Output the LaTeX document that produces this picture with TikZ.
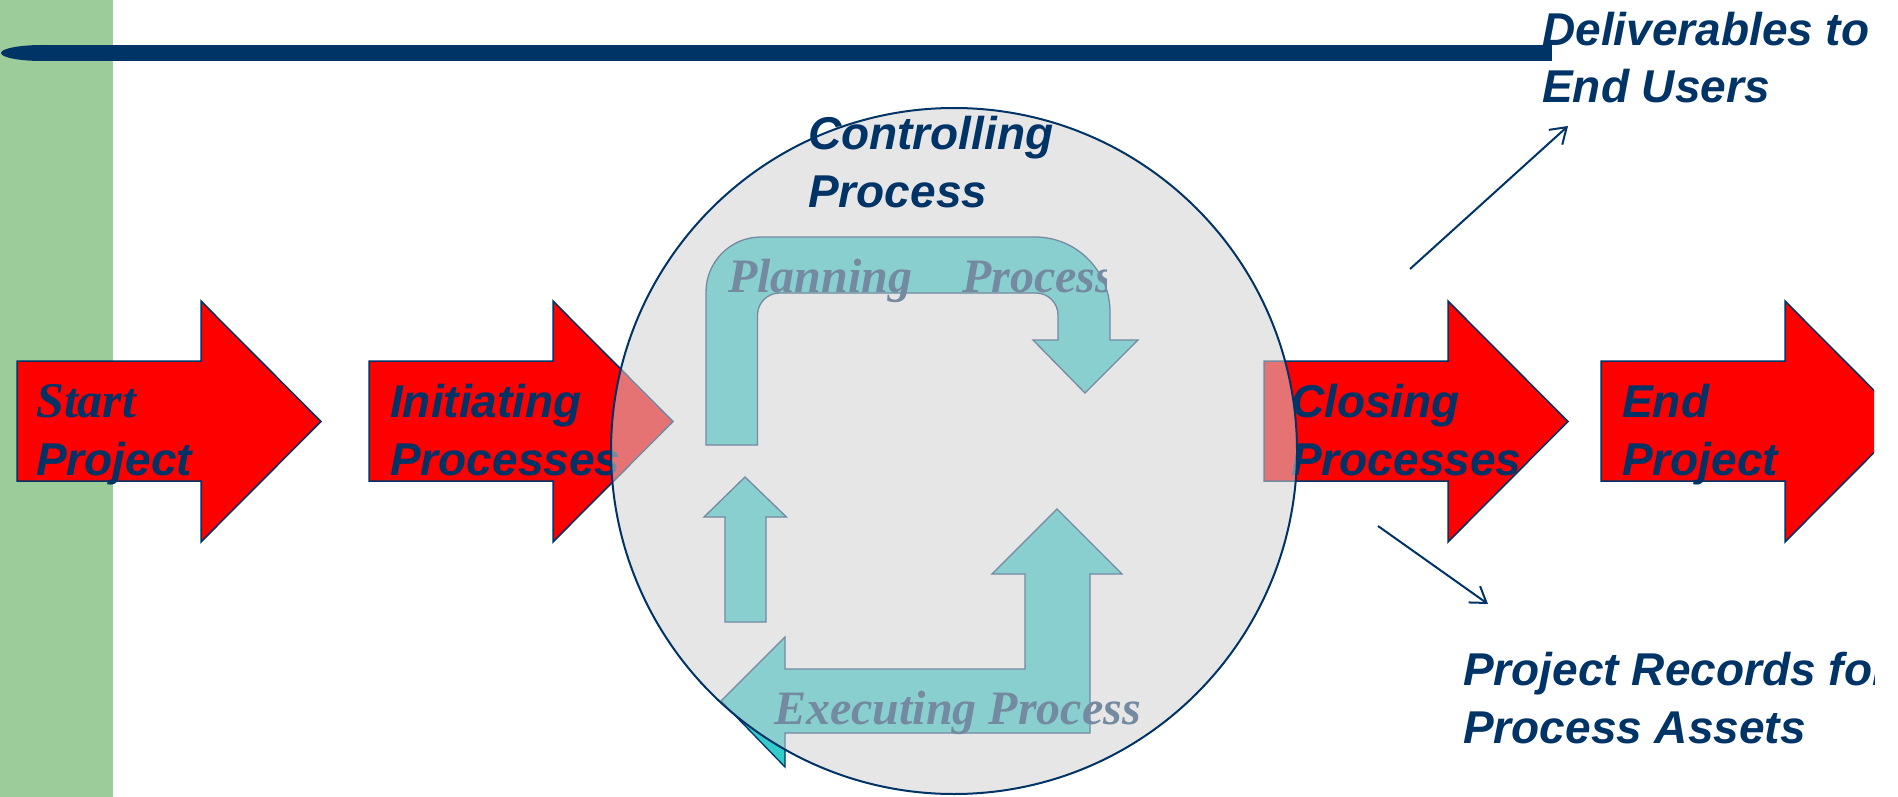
\documentclass[tikz,border=0pt]{standalone}
\usepackage{fontspec}
\usetikzlibrary{arrows.meta}
\newfontfamily\arialf{Liberation Sans}
\newfontfamily\timesf{Liberation Serif}
\definecolor{navy}{HTML}{003366}
\definecolor{slidegreen}{HTML}{9BCC99}
\definecolor{turq}{HTML}{33CCCC}
\definecolor{ctrlgray}{HTML}{D2D2D2}
\begin{document}
\begin{tikzpicture}[x=1pt,y=-1pt,
  redarrow/.style={fill=red, draw=navy, line width=1.5pt, line join=miter},
  cyanarrow/.style={fill=turq, draw=navy, line width=1.3pt, line join=miter},
  lbl/.style={anchor=base west, inner sep=0pt, align=left, text=navy,
    font=\arialf\bfseries\itshape\fontsize{46}{58}\selectfont},
  proc/.style={anchor=base west, inner sep=0pt, text=navy,
    font=\timesf\bfseries\itshape\fontsize{48}{58}\selectfont},
  conn/.style={draw=navy, line width=2pt, -{Straight Barb[length=15pt,width=20pt]}}
]
\useasboundingbox (0,0) rectangle (1898,797);
\fill[white] (0,0) rectangle (1898,797);
\begin{scope}
\clip (0,0) rectangle (1874,797);
% green side bar
\fill[slidegreen] (0,0) rectangle (113,797);
% title rule
\fill[navy] (42,53) ellipse[x radius=41pt, y radius=8pt];
\fill[navy] (42,45) rectangle (1552,61);
% red process arrows
\foreach \L in {17,369,1264,1601}{
  \draw[redarrow] (\L,361) -- (\L+184,361) -- (\L+184,301) -- (\L+304,421.5)
    -- (\L+184,542) -- (\L+184,481) -- (\L,481) -- cycle;
}
% (multi-line nodes: base anchor = last line's baseline)
\node[lbl] (start) at (36,475) {{\timesf\fontsize{50}{58}\selectfont Start}\\Project};
\node[lbl] (init) at (390,475) {Initiating\\Processes};
\node[lbl] (close) at (1291,475) {Closing\\Processes};
\node[lbl] (endp) at (1622,475) {End\\Project};
% cyan cycle arrows
\draw[cyanarrow] (706,445) -- (706,292) .. controls (706,261.6) and (730.6,237) .. (761,237)
  -- (1035,237) .. controls (1076.4,237) and (1110,270.6) .. (1110,312)
  -- (1110,340) -- (1138,340) -- (1085,393) -- (1033,340) -- (1058,340)
  -- (1058,315) .. controls (1058,302.9) and (1048.1,293) .. (1036,293)
  -- (779.5,293) .. controls (767.4,293) and (757.5,302.9) .. (757.5,315)
  -- (757.5,445) -- cycle;
\draw[cyanarrow] (725,622) -- (725,517) -- (704,517) -- (745,477) -- (786.5,517)
  -- (766,517) -- (766,622) -- cycle;
\draw[cyanarrow] (1090,733) -- (785,733) -- (785,767) -- (721,701) -- (785,637)
  -- (785,669) -- (1025,669) -- (1025,574) -- (992,574) -- (1057,509) -- (1122,574)
  -- (1090,574) -- cycle;
\begin{scope}
\clip (700,230) rectangle (1106,320);
\node[proc] (plan) at (728,292) {Planning\hspace{50pt}Process};
\end{scope}
\node[proc] (exec) at (774,724) {Executing Process};
% controlling circle
\node[circle, minimum size=686pt, inner sep=0pt, fill=ctrlgray, fill opacity=0.55,
  draw=navy, draw opacity=1, line width=2pt] (ctrl) at (954,451) {};
\node[lbl] (ctrltxt) at (808,207) {Controlling\\Process};
% outputs
\node[lbl] (deliv) at (1542,103) {Deliverables to\\End Users};
\node[lbl] (records) at (1463,743) {Project Records for\\Process Assets};
\coordinate (d1) at (1410,269);
\coordinate (d2) at (1568,126);
\coordinate (r1) at (1378,526);
\coordinate (r2) at (1488,604);
\draw[conn] (d1) -- (d2);
\draw[conn] (r1) -- (r2);
\end{scope}
\end{tikzpicture}
\end{document}
